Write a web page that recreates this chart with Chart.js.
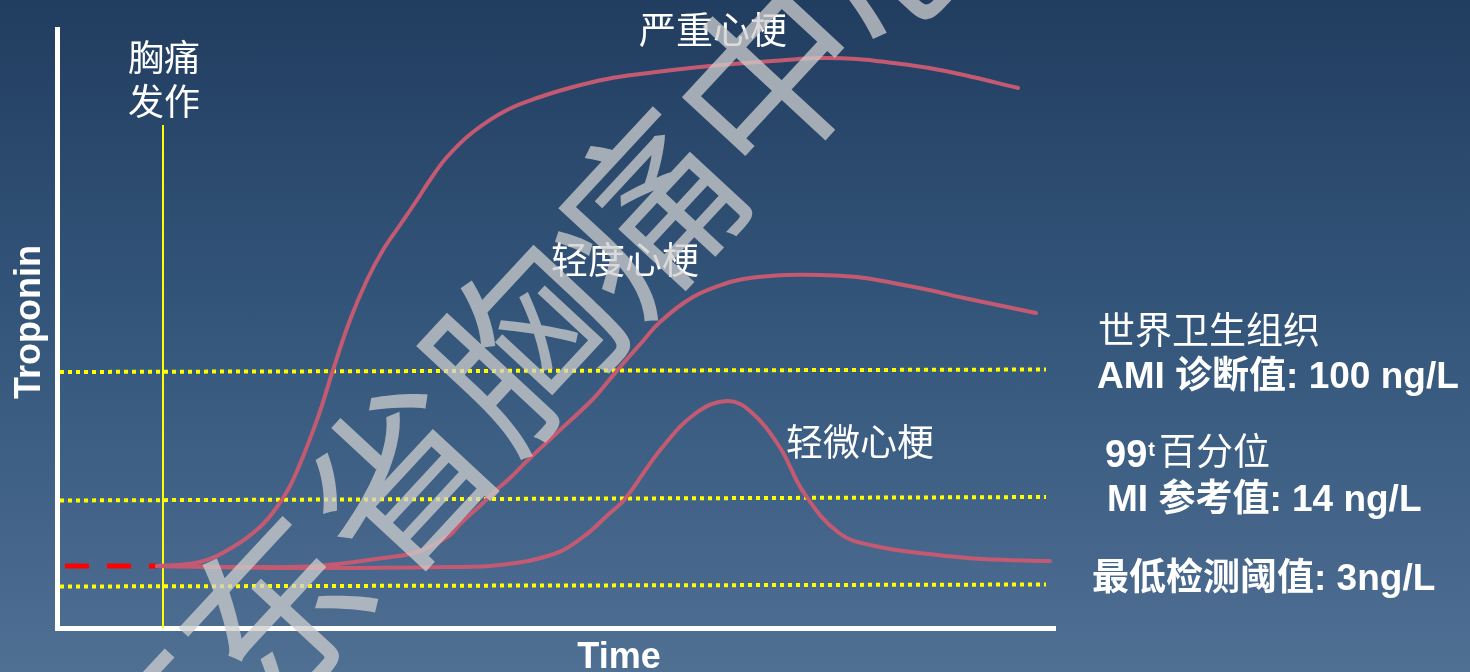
<!DOCTYPE html>
<html lang="zh">
<head>
<meta charset="utf-8">
<title>Troponin</title>
<script src="https://cdn.jsdelivr.net/npm/chart.js@4.4.1/dist/chart.umd.min.js"></script>
<style>
  html, body { margin: 0; padding: 0; }
  body {
    width: 1470px; height: 672px; overflow: hidden;
    background: linear-gradient(to bottom, #213d60 0%, #35577c 50%, #4f6f93 100%);
  }
  #wrap { position: relative; width: 1470px; height: 672px; }
</style>
</head>
<body>
<div id="wrap"><canvas id="chart"></canvas></div>
<script>
// ===== Eixos (unidades arbitrárias)
const X_MAX = 998;   // tempo
const Y_MAX = 599;   // troponina

// ===== Curvas [tempo, troponina]
const severeMI = [[100,62],[143,66],[176,81],[203,101],[220,121],[236,148],[260,208],[276,258],
  [293,308],[310,348],[326,378],[343,403],[360,428],[373,448],[390,471],[416,496],[450,518],
  [483,531],[516,541],[550,549],[583,554],[643,561],[729,568],[764,570],[800,569],[836,565],
  [872,560],[907,553],[961,540]];
const mildMI = [[100,62],[193,61],[260,62],[326,70],[360,76],[393,93],[403,104],[426,125],
  [436,135],[453,150],[470,167],[503,198],[536,229],[553,249],[570,269],[586,287],[603,306],
  [636,331],[670,345],[693,350],[729,353],[764,353],[800,351],[836,345],[872,338],[907,330],
  [979,315]];
const minorMI = [[100,62],[243,60],[393,61],[443,63],[497,74],[526,91],[553,115],[568,129],
  [604,179],[639,215],[670,227],[693,217],[722,182],[747,135],[782,95],[818,82],[872,74],
  [925,69],[993,67]];

// ===== Linhas de referência
const onsetLine = [[106,0],[106,503]];
const baselineDash = [[8,62],[100,62]];
const whoLine = [[3,256],[989,258.5]];
const p99Line = [[3,127.5],[989,131]];
const lodLine = [[3,41.5],[989,43.5]];

// ===== Textos
const curveLabels = ['严重心梗', '轻度心梗', '轻微心梗'];
const onsetLabel = ['胸痛', '发作'];
const xTitle = 'Time';
const yTitle = 'Troponin';
const watermark = '广东省胸痛中心';

const CURVE = '#c35a71';
const YELLOW = '#ffff00';
const CJK = '"Noto Sans CJK SC", sans-serif';
const LAT = '"Liberation Sans", Arial, "Noto Sans CJK SC", sans-serif';

const curve = (data) => ({
  data, borderColor: CURVE, borderWidth: 4, tension: 0.4,
  borderCapStyle: 'round', pointRadius: 0, fill: false
});
const straight = (data, color, width, dash) => ({
  data, borderColor: color, borderWidth: width, borderDash: dash || [],
  tension: 0, pointRadius: 0, fill: false
});

// ===== Textos e marca d'água
const textPlugin = {
  id: 'textos',
  afterDatasetsDraw(chart) {
    const ctx = chart.ctx;
    ctx.save();
    ctx.fillStyle = '#ffffff';

    // rótulos das curvas
    ctx.textAlign = 'center';
    ctx.textBaseline = 'middle';
    ctx.font = '36px ' + CJK;
    ctx.fillText(onsetLabel[0], 164, 57);
    ctx.fillText(onsetLabel[1], 164, 101);
    ctx.font = '37px ' + CJK;
    ctx.fillText(curveLabels[0], 713, 30);
    ctx.fillText(curveLabels[1], 625, 260);
    ctx.fillText(curveLabels[2], 860, 442);

    // lado direito
    ctx.textAlign = 'left';
    ctx.font = '37px ' + CJK;
    ctx.fillText('世界卫生组织', 1098, 330);
    ctx.textBaseline = 'alphabetic';
    ctx.font = 'bold 37px ' + LAT;
    ctx.fillText('AMI 诊断值: 100 ng/L', 1097, 388);

    ctx.font = 'bold 38px ' + LAT;
    ctx.fillText('99', 1105, 467);
    let x = 1105 + ctx.measureText('99').width + 1;
    ctx.font = 'bold 20px ' + LAT;
    ctx.fillText('t', x, 456);
    x += ctx.measureText('t').width + 4;
    ctx.font = '37px ' + CJK;
    ctx.fillText('百分位', x, 465);

    ctx.font = 'bold 37px ' + LAT;
    ctx.fillText('MI 参考值: 14 ng/L', 1107, 511);
    ctx.fillText('最低检测阈值: 3ng/L', 1092, 590);

    // títulos dos eixos
    ctx.textAlign = 'center';
    ctx.font = 'bold 36px ' + LAT;
    ctx.fillText(xTitle, 619, 668);
    ctx.translate(40, 322);
    ctx.rotate(-Math.PI / 2);
    ctx.fillText(yTitle, 0, 0);
    ctx.restore();
  },
  afterDraw(chart) {
    const ctx = chart.ctx;
    ctx.save();
    ctx.translate(522, 345);
    ctx.rotate(-47.2 * Math.PI / 180);
    ctx.font = '182px ' + CJK;
    ctx.fillStyle = 'rgba(205, 205, 205, 0.75)';
    ctx.textAlign = 'center';
    ctx.textBaseline = 'middle';
    ctx.fillText(watermark, 0, 0);
    ctx.restore();
  }
};

const axis = (max) => ({
  type: 'linear', min: 0, max,
  ticks: { display: false },
  grid: { display: false, drawTicks: false },
  border: { display: true, color: '#ffffff', width: 5 }
});

new Chart(document.getElementById('chart'), {
  type: 'line',
  data: {
    datasets: [
      curve(severeMI),
      curve(mildMI),
      curve(minorMI),
      straight(baselineDash, '#ff0000', 5, [24, 18]),
      straight(onsetLine, YELLOW, 2),
      straight(whoLine, YELLOW, 4, [4, 4]),
      straight(p99Line, YELLOW, 4, [4, 4]),
      straight(lodLine, YELLOW, 4, [4, 4])
    ]
  },
  options: {
    responsive: true,
    maintainAspectRatio: false,
    animation: false,
    layout: { padding: { left: 57, right: 415, top: 29, bottom: 44 } },
    plugins: { legend: { display: false }, tooltip: { enabled: false } },
    scales: { x: axis(X_MAX), y: axis(Y_MAX) }
  },
  plugins: [textPlugin]
});
</script>
</body>
</html>
